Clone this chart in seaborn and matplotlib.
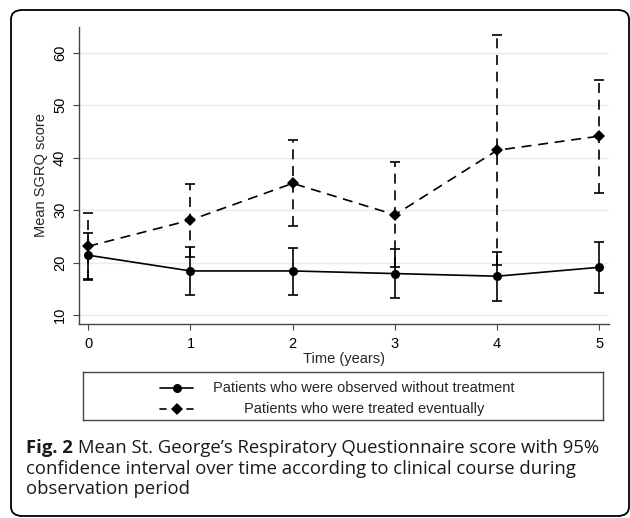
import matplotlib
matplotlib.use("Agg")
import matplotlib.pyplot as plt
from matplotlib.patches import FancyBboxPatch
import numpy as np
import pandas as pd
import seaborn as sns

# Data
years = [0, 1, 2, 3, 4, 5]
obs_mean = [21.4, 18.4, 18.4, 17.9, 17.4, 19.1]
obs_low = [16.9, 13.8, 13.9, 13.2, 12.7, 14.2]
obs_high = [25.6, 23.0, 22.8, 22.6, 22.1, 24.0]
trt_mean = [23.1, 28.1, 35.1, 29.1, 41.4, 44.1]
trt_low = [16.7, 21.1, 27.0, 19.1, 19.5, 33.3]
trt_high = [29.4, 35.0, 43.4, 39.2, 63.3, 54.8]

obs_label = "Patients who were observed without treatment"
trt_label = "Patients who were treated eventually"
x_label = "Time (years)"
y_label = "Mean SGRQ score"
y_ticks = [10, 20, 30, 40, 50, 60]
caption_bold = "Fig. 2"
caption_rest = [
    "Mean St. George\u2019s Respiratory Questionnaire score with 95%",
    "confidence interval over time according to clinical course during",
    "observation period",
]

sns.set_theme(style="white")
plt.rcParams["font.family"] = ["Liberation Sans", "DejaVu Sans"]

W, H = 630, 518
fig = plt.figure(figsize=(W / 100, H / 100), dpi=100)


def fx(px):
    return px / W


def fy(py):
    return 1 - py / H


# outer rounded frame
frame = FancyBboxPatch((fx(11), fy(516)), fx(618), (516 - 10) / H,
                       boxstyle="round,pad=0,rounding_size=0.018",
                       transform=fig.transFigure, fill=False,
                       edgecolor="black", linewidth=1.3)
fig.patches.append(frame)

ax = fig.add_axes([fx(79.3), fy(324.3), fx(608.5 - 79.3), (324.3 - 26.7) / H])
ax.set_facecolor("white")

df = pd.DataFrame({
    "year": years * 2,
    "score": obs_mean + trt_mean,
    "group": [obs_label] * 6 + [trt_label] * 6,
})

# confidence intervals
e1 = ax.errorbar(years, obs_mean,
                 yerr=[np.subtract(obs_mean, obs_low), np.subtract(obs_high, obs_mean)],
                 fmt="none", ecolor="black", elinewidth=1.2, capsize=3.5, capthick=1.2, zorder=3)
e2 = ax.errorbar(years, trt_mean,
                 yerr=[np.subtract(trt_mean, trt_low), np.subtract(trt_high, trt_mean)],
                 fmt="none", ecolor="black", elinewidth=1.2, capsize=3.5, capthick=1.2, zorder=3)
e2[2][0].set_linestyle((0, (6, 4)))

sns.lineplot(data=df, x="year", y="score", hue="group", style="group",
             markers={obs_label: "o", trt_label: "D"},
             dashes={obs_label: "", trt_label: (6, 4)},
             palette={obs_label: "black", trt_label: "black"},
             markersize=6.5, markeredgewidth=0, linewidth=1.2,
             legend=False, ax=ax, zorder=4)

ax.set_xlim(-0.088, 5.09)
ax.set_ylim(8.23, 64.96)
ax.set_xticks(years)
ax.set_yticks(y_ticks)
ax.tick_params(axis="y", labelrotation=90)
for t in ax.get_yticklabels():
    t.set_va("center")
ax.tick_params(axis="both", which="major", direction="out", length=4.3, width=0.8,
               color="#444444", labelsize=10.5, labelcolor="black", pad=4.5,
               left=True, bottom=True)
ax.yaxis.grid(True, color="#eaeaea", linewidth=1.0)
ax.xaxis.grid(False)
for side in ["top", "right"]:
    ax.spines[side].set_visible(False)
for side in ["left", "bottom"]:
    ax.spines[side].set_color("#444444")
    ax.spines[side].set_linewidth(1.0)
ax.set_xlabel(x_label, fontsize=10.5, labelpad=1)
ax.set_ylabel(y_label, fontsize=10.5, labelpad=4)

# legend box drawn in its own axes
lw, lh = 602.7 - 83.3, 420 - 371.7
lax = fig.add_axes([fx(83.3), fy(420), fx(lw), lh / H])
lax.set_xlim(0, lw)
lax.set_ylim(lh, 0)
lax.set_xticks([])
lax.set_yticks([])
for s in lax.spines.values():
    s.set_color("#444444")
    s.set_linewidth(1.0)
    s.set_visible(True)
lax.plot([76.7, 110], [16.6, 16.6], color="black", linewidth=1.2)
lax.plot([93.3], [16.6], marker="o", color="black", markersize=6.5, markeredgewidth=0)
lax.plot([76.7, 83], [37.3, 37.3], color="black", linewidth=1.2)
lax.plot([103.6, 110], [37.3, 37.3], color="black", linewidth=1.2)
lax.plot([93.3], [37.3], marker="D", color="black", markersize=6.5, markeredgewidth=0)
lax.text(280.7, 16.6, obs_label, ha="center", va="center", fontsize=10.5)
lax.text(280.7, 37.3, trt_label, ha="center", va="center", fontsize=10.5)

# caption
cap_font = ["Open Sans", "DejaVu Sans"]
cap_size = 13.3
fig.canvas.draw()
renderer = fig.canvas.get_renderer()
tb = fig.text(fx(26), fy(453), caption_bold, fontsize=cap_size, fontweight="bold",
              family=cap_font, color="#1a1a1a", va="baseline", ha="left")
bb = tb.get_window_extent(renderer=renderer)
fig.text(fx(bb.x1 + 5), fy(453), caption_rest[0], fontsize=cap_size,
         family=cap_font, color="#1a1a1a", va="baseline", ha="left")
fig.text(fx(26), fy(473.5), caption_rest[1], fontsize=cap_size,
         family=cap_font, color="#1a1a1a", va="baseline", ha="left")
fig.text(fx(26), fy(494), caption_rest[2], fontsize=cap_size,
         family=cap_font, color="#1a1a1a", va="baseline", ha="left")

fig.savefig("out.png", dpi=100)
